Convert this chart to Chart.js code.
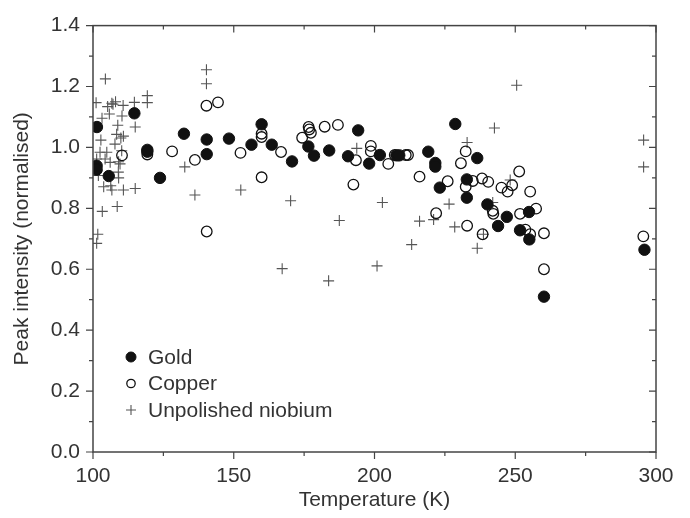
<!DOCTYPE html>
<html lang="en">
<head>
  <meta charset="UTF-8">
  <title>Peak intensity vs temperature</title>
  <script src="https://cdn.jsdelivr.net/npm/chart.js"></script>
  <style>
    body { margin: 0; background: #fff; }
    #wrap { width: 690px; height: 518px; }
  </style>
</head>
<body>
  <div id="wrap"><canvas id="chart" width="690" height="518"></canvas></div>
  <script>
    // axis ranges / ticks
    const xRange = [100, 300];
    const yRange = [0, 1.4];
    const xMajor = 50, xMinor = 25;
    const yMajor = 0.2, yMinor = 0.1;

    const seriesNames = ['Gold', 'Copper', 'Unpolished niobium'];

    // Gold (filled circles)
    const goldX = [101.4, 101.3, 101.3, 105.6, 114.7, 119.3, 119.3, 123.8, 132.3, 140.4, 140.4, 148.3, 156.3, 159.9, 163.5,
      170.7, 176.5, 178.5, 183.9, 190.6, 194.2, 198.1, 201.9, 207.8, 208.8, 219.1, 221.6, 221.6, 223.2, 228.7, 232.8, 232.8,
      236.5, 240.1, 243.9, 247.0, 251.7, 254.9, 255.0, 260.2, 295.9];
    const goldY = [1.067, 0.940, 0.927, 0.906, 1.112, 0.992, 0.986, 0.900, 1.045, 1.026, 0.978, 1.029, 1.009, 1.076, 1.009,
      0.954, 1.003, 0.973, 0.990, 0.971, 1.056, 0.947, 0.975, 0.974, 0.974, 0.986, 0.949, 0.937, 0.868, 1.077, 0.895, 0.835,
      0.965, 0.813, 0.742, 0.772, 0.728, 0.788, 0.698, 0.510, 0.664];

    // Copper (open circles)
    const copperX = [110.3, 119.3, 128.1, 136.2, 140.3, 140.4, 144.4, 152.4, 159.9, 159.9, 159.9, 166.8, 174.3, 176.6, 176.8,
      177.4, 182.3, 187.0, 192.5, 193.4, 198.7, 198.7, 204.9, 207.2, 211.1, 211.9, 216.0, 221.9, 226.0, 230.7, 232.4, 232.4,
      232.9, 234.9, 238.2, 238.4, 240.4, 242.0, 242.2, 245.1, 247.3, 248.9, 251.4, 251.7, 253.6, 255.3, 255.3, 257.4, 260.2,
      260.2, 295.5];
    const copperY = [0.974, 0.977, 0.987, 0.959, 1.137, 0.724, 1.148, 0.982, 1.045, 1.034, 0.902, 0.985, 1.032, 1.067, 1.059,
      1.048, 1.068, 1.074, 0.878, 0.958, 1.005, 0.987, 0.946, 0.975, 0.975, 0.975, 0.904, 0.784, 0.889, 0.948, 0.987, 0.871,
      0.743, 0.890, 0.898, 0.715, 0.887, 0.792, 0.782, 0.868, 0.855, 0.876, 0.921, 0.782, 0.730, 0.855, 0.715, 0.799, 0.718,
      0.600, 0.708];

    // Unpolished niobium (crosses)
    const niobiumX = [101.1, 101.7, 101.3, 101.9, 101.3, 102.5, 102.8, 103.2, 103.3, 103.8, 104.4, 104.3, 104.9, 105.2, 105.8,
      106.1, 106.3, 106.7, 106.7, 107.1, 107.8, 108.0, 108.4, 108.8, 108.6, 109.1, 109.6, 109.1, 109.0, 109.9, 110.3, 110.7,
      110.8, 110.8, 110.2, 114.7, 115.0, 115.0, 119.3, 119.3, 132.6, 136.2, 140.3, 140.3, 152.5, 167.2, 170.2, 183.7, 187.5,
      193.7, 200.9, 202.8, 213.2, 216.0, 221.0, 226.5, 228.5, 232.9, 236.5, 238.7, 242.0, 242.6, 248.2, 250.5, 295.6, 295.6];
    const niobiumY = [1.147, 0.715, 0.685, 0.908, 0.962, 0.984, 1.024, 1.096, 0.790, 0.871, 1.225, 0.962, 0.984, 1.134, 1.110,
      0.951, 0.874, 0.860, 1.145, 1.142, 1.011, 1.150, 1.043, 1.073, 0.806, 0.953, 0.946, 0.900, 0.919, 1.031, 1.103, 1.138,
      1.037, 0.860, 0.989, 1.148, 1.067, 0.865, 1.170, 1.147, 0.936, 0.844, 1.255, 1.209, 0.860, 0.602, 0.825, 0.562, 0.760,
      0.997, 0.611, 0.819, 0.681, 0.758, 0.763, 0.814, 0.739, 1.016, 0.669, 0.715, 0.819, 1.064, 0.893, 1.204, 1.024, 0.936];

    const pts = (xs, ys) => xs.map((x, i) => ({x: x, y: ys[i]}));
    const FONT = "'Liberation Sans', Arial, sans-serif";
    const TXT = '#333';
    const AX = '#444';

    // frame with ticks: outward on left/bottom, inward on top/right
    const framePlugin = {
      id: 'frame',
      afterDatasetsDraw(chart) {
        const {ctx, chartArea: a, scales} = chart;
        ctx.save();
        ctx.strokeStyle = AX;
        ctx.lineWidth = 1.5;
        ctx.strokeRect(a.left, a.top, a.right - a.left, a.bottom - a.top);
        ctx.lineWidth = 1.2;
        ctx.beginPath();
        for (let v = xRange[0]; v <= xRange[1] + 0.001; v += xMinor) {
          const px = scales.x.getPixelForValue(v);
          const len = (Math.round(v) % xMajor === 0) ? 7 : 4;
          ctx.moveTo(px, a.bottom); ctx.lineTo(px, a.bottom + len);
          ctx.moveTo(px, a.top); ctx.lineTo(px, a.top + len);
        }
        for (let k = 0; k <= Math.round((yRange[1] - yRange[0]) / yMinor); k++) {
          const v = yRange[0] + k * yMinor;
          const py = scales.y.getPixelForValue(v);
          const len = (k % 2 === 0) ? 7 : 4;
          ctx.moveTo(a.left, py); ctx.lineTo(a.left - len, py);
          ctx.moveTo(a.right, py); ctx.lineTo(a.right - len, py);
        }
        ctx.stroke();
        ctx.restore();
      }
    };

    // legend drawn inside the plot, lower left
    const legendPlugin = {
      id: 'innerLegend',
      afterDraw(chart) {
        const {ctx, chartArea: a} = chart;
        const mx = a.left + 38, tx = a.left + 55;
        let y = a.bottom - 95;
        ctx.save();
        ctx.font = '21px ' + FONT;
        ctx.textBaseline = 'middle';
        ctx.fillStyle = TXT;
        chart.data.datasets.forEach((ds, i) => {
          ctx.save();
          ctx.strokeStyle = ds.borderColor;
          ctx.fillStyle = ds.backgroundColor;
          ctx.lineWidth = ds.borderWidth;
          ctx.beginPath();
          if (ds.pointStyle === 'cross') {
            ctx.moveTo(mx - 5, y); ctx.lineTo(mx + 5, y);
            ctx.moveTo(mx, y - 5); ctx.lineTo(mx, y + 5);
            ctx.stroke();
          } else {
            const r = i === 0 ? 5 : 4.2;
            ctx.arc(mx, y, r, 0, Math.PI * 2);
            ctx.fill(); ctx.stroke();
          }
          ctx.restore();
          ctx.fillText(ds.label, tx, y + 1);
          y += 26.5;
        });
        ctx.restore();
      }
    };

    new Chart(document.getElementById('chart'), {
      type: 'scatter',
      data: {
        datasets: [
          { label: seriesNames[0], data: pts(goldX, goldY), pointStyle: 'circle', pointRadius: 5.7,
            backgroundColor: '#111', borderColor: '#111', borderWidth: 1 },
          { label: seriesNames[1], data: pts(copperX, copperY), pointStyle: 'circle', pointRadius: 5.3,
            backgroundColor: 'rgba(255,255,255,0)', borderColor: '#111', borderWidth: 1.3 },
          { label: seriesNames[2], data: pts(niobiumX, niobiumY), pointStyle: 'cross', pointRadius: 5.5,
            backgroundColor: '#555', borderColor: '#555', borderWidth: 1.1 }
        ]
      },
      options: {
        responsive: false,
        animation: false,
        devicePixelRatio: 1,
        layout: { padding: { top: 17, right: 34, left: 0, bottom: 0 } },
        plugins: { legend: { display: false }, tooltip: { enabled: false } },
        scales: {
          x: {
            type: 'linear', min: xRange[0], max: xRange[1],
            grid: { display: false, drawTicks: false },
            border: { display: false },
            ticks: { stepSize: xMajor, padding: 12, color: TXT, font: { family: FONT, size: 21 } },
            title: { display: true, text: 'Temperature (K)', color: TXT, font: { family: FONT, size: 21 },
              padding: { top: 0, bottom: 5 } },
            afterFit: s => { s.height = 66; }
          },
          y: {
            type: 'linear', min: yRange[0], max: yRange[1],
            grid: { display: false, drawTicks: false },
            border: { display: false },
            ticks: { stepSize: yMajor, padding: 13, color: TXT, font: { family: FONT, size: 21 },
              callback: v => v.toFixed(1) },
            title: { display: true, text: 'Peak intensity (normalised)', color: TXT, font: { family: FONT, size: 21 },
              padding: { top: 10, bottom: 0 } },
            afterFit: s => { s.width = 93; }
          }
        }
      },
      plugins: [framePlugin, legendPlugin]
    });
  </script>
</body>
</html>
